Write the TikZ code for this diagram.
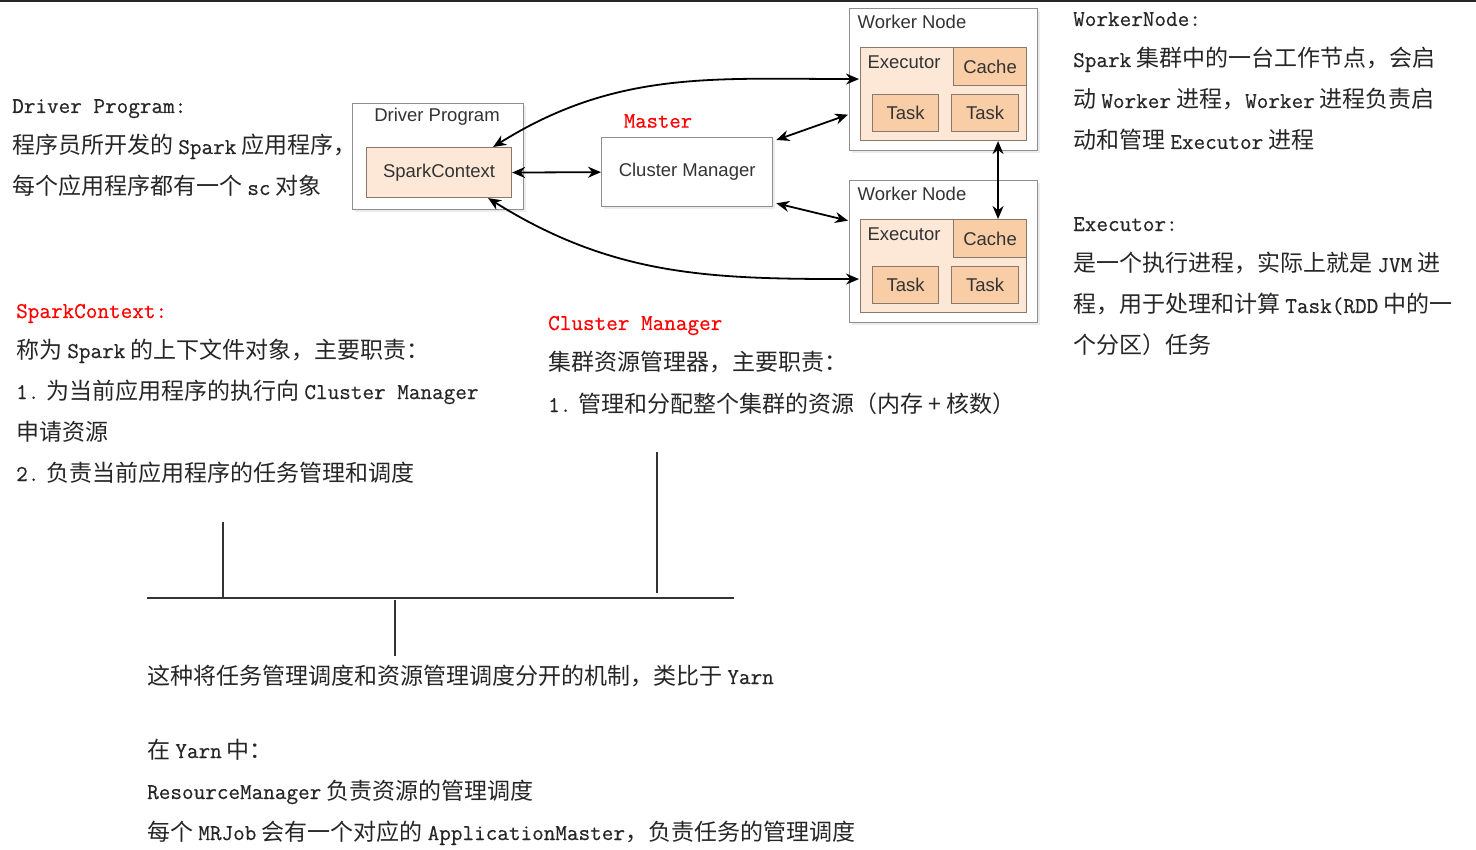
\documentclass[tikz,border=0pt]{standalone}
\usepackage{fontspec}
\setmainfont{Noto Sans CJK SC}
\setmonofont{Latin Modern Mono}[Scale=0.98, FakeBold=0.5]
\newfontfamily\boxfont{Liberation Sans}
\usetikzlibrary{arrows.meta, shadows}

\definecolor{peachL}{HTML}{FDE8D8}
\definecolor{peachD}{HTML}{F9CDA6}
\definecolor{edgeB}{HTML}{8A7868}
\definecolor{edgeG}{HTML}{8E8E8E}

% latin words in the notes
\newcommand{\en}[1]{\texttt{#1}}

\tikzset{
  outerbox/.style={draw=edgeG, line width=1.3pt, fill=white, anchor=north west, inner sep=0pt,
    drop shadow={opacity=0.15, shadow xshift=2pt, shadow yshift=-2pt}},
  execbox/.style={draw=edgeB, line width=1.1pt, fill=peachL, anchor=north west, inner sep=0pt},
  partbox/.style={draw=edgeB, line width=1.1pt, fill=peachD, anchor=north west, inner sep=0pt,
    font=\boxfont\fontsize{18.5}{20}\selectfont, text=black!80},
  boxlabel/.style={font=\boxfont\fontsize{18.5}{20}\selectfont, text=black!80, inner sep=0pt},
  % notes are placed by the baseline of their last line
  note/.style={anchor=base west, align=left, inner sep=0pt, font=\fontsize{23}{41}\selectfont, text=black!85},
  notered/.style={note, text=red},
  link/.style={<->, >={Stealth[length=13pt,width=11pt]}, line width=1.8pt},
}

\begin{document}
\begin{tikzpicture}[x=1pt, y=-1pt]
  \useasboundingbox (0,0) rectangle (1476,850);

  % screenshot edge
  \draw[line width=2pt, black!85] (0,1) -- (1476,1);

  % Driver Program
  \node[outerbox, minimum width=171, minimum height=106] (dp) at (352,103) {};
  \node[boxlabel] (dplabel) at (437,117) {Driver Program};
  \node[execbox, minimum width=145, minimum height=50, font=\boxfont\fontsize{18.5}{20}\selectfont, text=black!80] (sc) at (366,147) {SparkContext};

  % Cluster Manager
  \node[outerbox, minimum width=171, minimum height=69, font=\boxfont\fontsize{18.5}{20}\selectfont, text=black!80] (cm) at (601,137) {Cluster Manager};
  \node[font=\ttfamily\fontsize{22.5}{26}\selectfont, text=red, inner sep=0pt] (master) at (658,121) {Master};

  % Worker Nodes
  \foreach \w/\y in {1/8, 2/180} {
    \node[outerbox, minimum width=188, minimum height=142] (w\w) at (849,\y) {};
    \node[boxlabel] (wl\w) at (912,{\y+14}) {Worker Node};
    \node[execbox, minimum width=166, minimum height=93] (ex\w) at (860,{\y+39}) {};
    \node[boxlabel] (el\w) at (904,{\y+54}) {Executor};
    \node[partbox, minimum width=73, minimum height=38] (cache\w) at (953,{\y+39}) {Cache};
    \node[partbox, minimum width=66, minimum height=37] (ta\w) at (872,{\y+86}) {Task};
    \node[partbox, minimum width=67, minimum height=37] (tb\w) at (951,{\y+86}) {Task};
  }

  % links
  \draw[link] (sc.east) -- (cm.west);
  \draw[link] ([shift={(3,3)}]cm.north east) -- ([shift={(-1,35)}]w1.west);
  \draw[link] ([shift={(3,-4)}]cm.south east) -- ([shift={(-1,-31)}]w2.west);
  \draw[link] ([xshift=-19]sc.north east) to[out=32, in=180] ([shift={(-1,-15)}]ex1.west);
  \draw[link] ([xshift=-24]sc.south east) to[out=-32, in=180] ([shift={(-1,13)}]ex2.west);
  \draw[link] ([xshift=8]cache1.south |- ex1.south) -- ([xshift=8]cache2.north);

  % notes
  \node[note] (drvnote) at (12,195) {\en{Driver Program:}\\程序员所开发的 \en{Spark} 应用程序，\\每个应用程序都有一个 \en{sc} 对象};

  \node[note] (wknote) at (1073,149) {\en{WorkerNode:}\\\en{Spark} 集群中的一台工作节点，会启\\动 \en{Worker} 进程，\en{Worker} 进程负责启\\动和管理 \en{Executor} 进程};
  \node[note] (exnote) at (1073,354) {\en{Executor:}\\是一个执行进程，实际上就是 \en{JVM} 进\\程，用于处理和计算 \en{Task(RDD} 中的一\\个分区）任务};

  \node[notered] (sctitle) at (16,318) {\en{SparkContext:}};
  \node[note] (scnote) at (16,481) {称为 \en{Spark} 的上下文件对象，主要职责：\\\en{1.} 为当前应用程序的执行向 \en{Cluster Manager}\\申请资源\\\en{2.} 负责当前应用程序的任务管理和调度};

  \node[notered] (cmtitle) at (548,330) {\en{Cluster Manager}};
  \node[note] (cmnote) at (548,412) {集群资源管理器，主要职责：\\\en{1.} 管理和分配整个集群的资源（内存 + 核数）};

  % bracket
  \draw[line width=1.3pt, black!80] (147,598) -- (734,598);
  \draw[line width=1.3pt, black!80] (223,522) -- (223,598);
  \draw[line width=1.3pt, black!80] (657,452) -- (657,593);
  \draw[line width=1.3pt, black!80] (395,600) -- (395,656);

  \node[note] (yarn) at (147,684) {这种将任务管理调度和资源管理调度分开的机制，类比于 \en{Yarn}};
  \node[note] (yarnnote) at (147,840) {在 \en{Yarn} 中：\\\en{ResourceManager} 负责资源的管理调度\\每个 \en{MRJob} 会有一个对应的 \en{ApplicationMaster}，负责任务的管理调度};
\end{tikzpicture}
\end{document}
